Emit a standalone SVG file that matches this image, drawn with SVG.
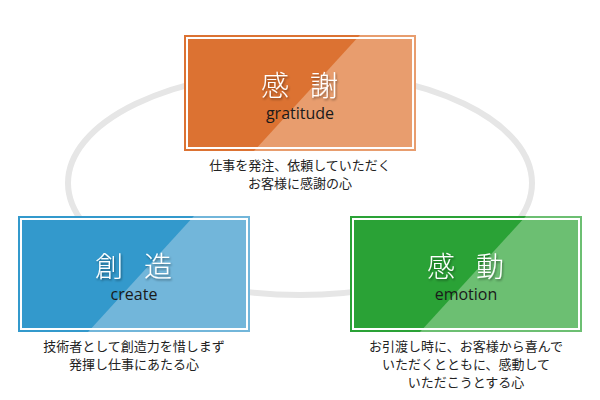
<svg xmlns="http://www.w3.org/2000/svg" width="600" height="400" viewBox="0 0 600 400">
<defs>
<filter id="sh" x="-20%" y="-20%" width="140%" height="140%">
<feDropShadow dx="1" dy="1.5" stdDeviation="1" flood-color="#000" flood-opacity="0.45"/>
</filter>
</defs>
<style>
.inner{fill:none;stroke:#fff;stroke-width:2}
.title{font-family:"Noto Sans CJK JP","Noto Sans",sans-serif;font-size:28px;font-weight:300;fill:#fff;text-anchor:middle;filter:url(#sh)}
.en{font-family:"Open Sans","Noto Sans",sans-serif;font-size:16px;fill:#1a1a1a;text-anchor:middle}
.desc{font-family:"Noto Sans CJK JP","Noto Sans",sans-serif;font-size:13px;fill:#222;text-anchor:middle}
</style>
<rect width="600" height="400" fill="#fff"/>
<g id="connectors">
<ellipse cx="300" cy="183" rx="232" ry="112" fill="none" stroke="#e6e6e6" stroke-width="6"/>
</g>
<g id="gratitude">
<rect x="184" y="35" width="232" height="116" fill="#e89d6e"/>
<polygon points="184,35 360,35 254,151 184,151" fill="#dc7232"/>
<rect x="187" y="38" width="226" height="110" class="inner"/>
<text y="96" class="title"><tspan x="275">感</tspan><tspan x="324">謝</tspan></text>
<text x="300" y="119" class="en">gratitude</text>
<text x="300" y="170" class="desc">仕事を発注、依頼していただく</text>
<text x="300" y="188" class="desc">お客様に感謝の心</text>
</g>
<g id="create">
<rect x="18" y="216" width="232" height="116" fill="#72b6da"/>
<polygon points="18,216 194,216 88,332 18,332" fill="#3399cc"/>
<rect x="21" y="219" width="226" height="110" class="inner"/>
<text y="277" class="title"><tspan x="109">創</tspan><tspan x="158">造</tspan></text>
<text x="134" y="300" class="en">create</text>
<text x="134" y="351" class="desc">技術者として創造力を惜しまず</text>
<text x="134" y="369" class="desc">発揮し仕事にあたる心</text>
</g>
<g id="emotion">
<rect x="350" y="216" width="232" height="116" fill="#6cbf72"/>
<polygon points="350,216 526,216 420,332 350,332" fill="#2aa236"/>
<rect x="353" y="219" width="226" height="110" class="inner"/>
<text y="277" class="title"><tspan x="441">感</tspan><tspan x="490">動</tspan></text>
<text x="466" y="300" class="en">emotion</text>
<text x="466" y="351" class="desc">お引渡し時に、お客様から喜んで</text>
<text x="466" y="369" class="desc">いただくとともに、感動して</text>
<text x="466" y="387" class="desc">いただこうとする心</text>
</g>
</svg>
